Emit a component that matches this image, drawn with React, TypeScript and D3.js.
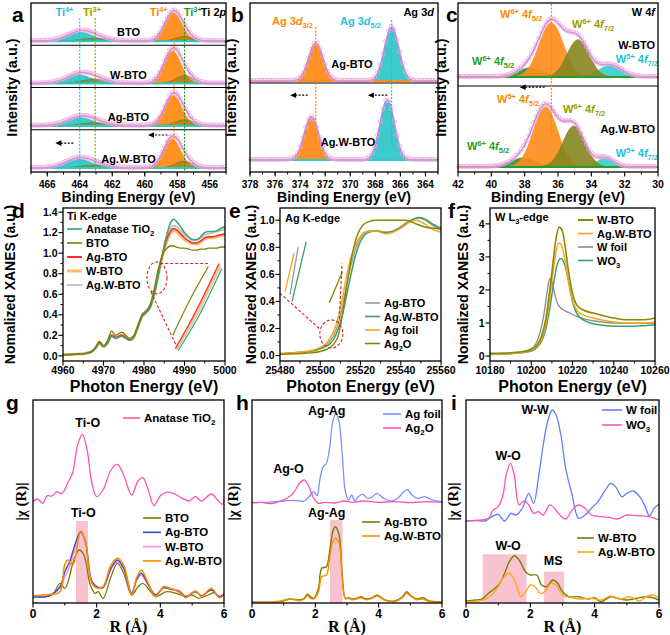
import React from "react";
import * as d3 from "d3";

type Pt = [number, number];
type Peak = [number, number, number]; // centre, height, fwhm

const SANS = "'Liberation Sans', Arial, Helvetica, sans-serif";
const SERIF = "'Liberation Serif', 'Times New Roman', serif";

// ---------- a: Ti 2p fitted components [centre eV, height, FWHM] ----------
const tiSamples = ["BTO", "W-BTO", "Ag-BTO", "Ag.W-BTO"];
const tiTi4p32: Peak[] = [[458.25, 0.95, 1.25], [458.3, 1.08, 1.25], [458.25, 1.0, 1.25], [458.32, 0.97, 1.25]];
const tiTi3p32: Peak[] = [[457.55, 0.16, 1.3], [457.55, 0.26, 1.3], [457.55, 0.2, 1.3], [457.6, 0.22, 1.3]];
const tiTi4p12: Peak[] = [[464.0, 0.3, 1.9], [464.05, 0.28, 1.9], [464.0, 0.27, 1.9], [464.1, 0.3, 1.9]];
const tiTi3p12: Peak[] = [[463.1, 0.1, 1.9], [463.1, 0.14, 1.9], [463.1, 0.1, 1.9], [463.1, 0.1, 1.9]];

// ---------- b: Ag 3d ----------
const agSamples = ["Ag-BTO", "Ag.W-BTO"];
const ag3d52: Peak[] = [[366.7, 0.9, 1.35], [367.05, 1.0, 1.35]];
const ag3d32: Peak[] = [[372.75, 0.63, 1.35], [373.1, 0.72, 1.35]];

// ---------- c: W 4f ----------
const wSamples = ["W-BTO", "Ag.W-BTO"];
const wOrange52: Peak[] = [[36.4, 0.9, 1.7], [36.75, 1.0, 1.7]];
const wOlive72: Peak[] = [[34.8, 0.62, 1.55], [35.05, 0.68, 1.55]];
const wCyan72: Peak[] = [[32.85, 0.2, 1.6], [33.15, 0.15, 1.2]];
const wGreen52: Peak[] = [[37.7, 0.15, 1.7], [38.1, 0.15, 1.7]];

// ---------- d: Ti K-edge XANES ----------
const dEnergy = [4960, 4963, 4965, 4967, 4968, 4969, 4970, 4971, 4972, 4973, 4974.5, 4975.5, 4976.5, 4977.5, 4978.5, 4979.5, 4980.5, 4981.5, 4982.5, 4983.5, 4984.5, 4985.5, 4986.5, 4987.3, 4988, 4989, 4990, 4991, 4992, 4993, 4994, 4995, 4996, 4997, 4998, 4999, 5000];
const dAnatase = [0.01, 0.015, 0.02, 0.035, 0.07, 0.12, 0.09, 0.12, 0.19, 0.17, 0.19, 0.17, 0.15, 0.18, 0.28, 0.38, 0.42, 0.47, 0.6, 0.78, 0.98, 1.16, 1.29, 1.33, 1.31, 1.26, 1.2, 1.16, 1.13, 1.13, 1.16, 1.2, 1.21, 1.21, 1.22, 1.24, 1.26];
const dBTO = [0.01, 0.015, 0.02, 0.04, 0.08, 0.14, 0.1, 0.15, 0.24, 0.2, 0.23, 0.2, 0.17, 0.2, 0.3, 0.4, 0.44, 0.5, 0.65, 0.84, 0.98, 1.04, 1.07, 1.07, 1.06, 1.05, 1.05, 1.04, 1.03, 1.03, 1.04, 1.04, 1.05, 1.05, 1.05, 1.06, 1.06];
const dAgBTO = [0.01, 0.015, 0.02, 0.04, 0.075, 0.13, 0.09, 0.13, 0.2, 0.18, 0.2, 0.18, 0.155, 0.185, 0.285, 0.385, 0.425, 0.475, 0.61, 0.79, 0.97, 1.12, 1.21, 1.24, 1.23, 1.19, 1.15, 1.12, 1.1, 1.1, 1.12, 1.15, 1.16, 1.16, 1.17, 1.18, 1.19];
const dWBTO = [0.01, 0.015, 0.02, 0.04, 0.075, 0.13, 0.09, 0.13, 0.2, 0.18, 0.2, 0.18, 0.155, 0.185, 0.285, 0.385, 0.425, 0.475, 0.6, 0.78, 0.96, 1.1, 1.19, 1.22, 1.21, 1.17, 1.13, 1.11, 1.09, 1.09, 1.11, 1.14, 1.15, 1.15, 1.16, 1.17, 1.18];
const dAgWBTO = [0.015, 0.02, 0.025, 0.045, 0.08, 0.13, 0.095, 0.13, 0.2, 0.18, 0.2, 0.18, 0.16, 0.19, 0.29, 0.39, 0.43, 0.48, 0.6, 0.78, 0.97, 1.14, 1.24, 1.27, 1.26, 1.22, 1.18, 1.15, 1.13, 1.13, 1.15, 1.18, 1.19, 1.2, 1.21, 1.22, 1.23];
const dInsetBTO: Pt[] = [[4987.1, 0.2], [4991, 0.52], [4995.9, 0.87]];
const dInsetAgBTO: Pt[] = [[4987.7, 0.07], [4993, 0.45], [4998.5, 0.9]];
const dInsetWBTO: Pt[] = [[4987.9, 0.07], [4993.2, 0.44], [4998.7, 0.89]];
const dInsetAgWBTO: Pt[] = [[4988.1, 0.06], [4993.4, 0.42], [4998.9, 0.87]];
const dInsetAnatase: Pt[] = [[4988.4, 0.05], [4993.7, 0.4], [4999.2, 0.85]];
const dZoomCentre: Pt = [4983.2, 0.76];
const dZoomLines: Pt[][] = [[[4984, 0.9], [4995.8, 0.9]], [[4981.7, 0.625], [4988.1, 0.09]]];

// ---------- e: Ag K-edge XANES ----------
const eAgBTO: Pt[] = [[25480, 0.015], [25490, 0.025], [25495, 0.033], [25500, 0.055], [25503, 0.08], [25505, 0.11], [25507, 0.16], [25509, 0.24], [25511, 0.36], [25513, 0.51], [25515, 0.65], [25517, 0.76], [25519, 0.84], [25521, 0.89], [25524, 0.92], [25528, 0.925], [25532, 0.91], [25535, 0.91], [25540, 0.95], [25545, 1.0], [25549, 1.015], [25552, 1.0], [25556, 0.96], [25560, 0.93]];
const eAgWBTO: Pt[] = [[25480, 0.012], [25490, 0.022], [25495, 0.03], [25500, 0.05], [25503, 0.07], [25505, 0.09], [25507, 0.13], [25509, 0.2], [25511, 0.3], [25513, 0.44], [25515, 0.58], [25517, 0.71], [25519, 0.81], [25521, 0.87], [25524, 0.91], [25528, 0.92], [25532, 0.91], [25535, 0.915], [25540, 0.95], [25545, 1.0], [25549, 1.02], [25552, 1.01], [25556, 0.97], [25560, 0.94]];
const eAgFoil: Pt[] = [[25480, 0.015], [25490, 0.025], [25495, 0.035], [25500, 0.06], [25503, 0.09], [25505, 0.13], [25507, 0.19], [25509, 0.29], [25511, 0.42], [25513, 0.58], [25515, 0.71], [25517, 0.8], [25519, 0.86], [25521, 0.9], [25524, 0.92], [25528, 0.92], [25532, 0.9], [25535, 0.905], [25540, 0.94], [25545, 0.99], [25548, 1.0], [25551, 0.98], [25555, 0.94], [25560, 0.91]];
const eAg2O: Pt[] = [[25480, 0.01], [25490, 0.015], [25495, 0.02], [25500, 0.03], [25503, 0.045], [25505, 0.06], [25507, 0.09], [25509, 0.15], [25511, 0.3], [25513, 0.5], [25515, 0.68], [25517, 0.82], [25519, 0.91], [25521, 0.96], [25524, 0.99], [25528, 1.0], [25533, 1.0], [25538, 1.0], [25542, 1.0], [25545, 0.99], [25548, 0.97], [25552, 0.95], [25556, 0.94], [25560, 0.935]];
const eInsetAgBTO: Pt[] = [[25485, 0.45], [25489, 0.8]];
const eInsetAgWBTO: Pt[] = [[25486, 0.4], [25493, 0.84]];
const eInsetAgFoil: Pt[] = [[25482.5, 0.47], [25487, 0.76]];
const eInsetAg2O: Pt[] = [[25504.5, 0.39], [25511, 0.62]];
const eZoomCentre: Pt = [25505.5, 0.16];
const eZoomLines: Pt[][] = [[[25499.5, 0.2], [25480, 0.46]], [[25509.5, 0.27], [25510.8, 0.68]]];

// ---------- f: W L3-edge XANES ----------
const fWBTO: Pt[] = [[10180, 0.08], [10190, 0.1], [10195, 0.13], [10200, 0.2], [10203, 0.35], [10205, 0.6], [10207, 1.1], [10209, 2.0], [10210.5, 2.8], [10212, 3.55], [10213.5, 3.9], [10215, 3.8], [10216.5, 3.3], [10218, 2.6], [10220, 1.9], [10222, 1.55], [10225, 1.4], [10230, 1.3], [10235, 1.22], [10240, 1.15], [10245, 1.1], [10250, 1.1], [10255, 1.1], [10260, 1.15]];
const fAgWBTO: Pt[] = [[10180, 0.06], [10190, 0.08], [10195, 0.11], [10200, 0.18], [10203, 0.3], [10205, 0.5], [10207, 0.95], [10209, 1.75], [10210.5, 2.5], [10212, 3.15], [10213.5, 3.42], [10215, 3.3], [10216.5, 2.85], [10218, 2.25], [10220, 1.7], [10222, 1.4], [10225, 1.25], [10230, 1.15], [10235, 1.08], [10240, 1.03], [10245, 1.0], [10250, 1.0], [10255, 1.0], [10260, 1.02]];
const fWFoil: Pt[] = [[10180, 0.05], [10190, 0.08], [10195, 0.12], [10200, 0.22], [10202, 0.35], [10204, 0.65], [10206, 1.2], [10207.5, 1.85], [10208.5, 2.25], [10209.3, 2.35], [10210.3, 2.2], [10211.5, 1.85], [10213, 1.55], [10215, 1.42], [10218, 1.32], [10222, 1.2], [10226, 1.12], [10232, 1.05], [10240, 1.0], [10250, 0.99], [10260, 1.0]];
const fWO3: Pt[] = [[10180, 0.05], [10190, 0.07], [10195, 0.1], [10200, 0.15], [10203, 0.27], [10205, 0.45], [10207, 0.8], [10209, 1.45], [10211, 2.25], [10212.5, 2.75], [10214.3, 2.95], [10216, 2.8], [10218, 2.3], [10220, 1.65], [10222, 1.3], [10225, 1.1], [10230, 0.98], [10235, 0.93], [10240, 0.9], [10245, 0.9], [10250, 0.9], [10255, 0.92], [10260, 0.95]];

// ---------- g: Ti K-edge EXAFS |chi(R)| (offset, arb. units) ----------
const gAnatase: Pt[] = [[0, 101.3], [0.15, 104], [0.3, 99.7], [0.45, 107.3], [0.6, 107], [0.75, 111.3], [0.9, 109.3], [1.1, 120.7], [1.25, 130.7], [1.4, 158], [1.55, 168.7], [1.7, 153], [1.85, 119.7], [2.0, 106.3], [2.2, 113], [2.45, 133], [2.65, 138.7], [2.85, 128], [3.1, 108], [3.3, 122], [3.45, 125.3], [3.6, 115.3], [3.8, 97.3], [4.0, 107.3], [4.2, 110.7], [4.4, 109.7], [4.7, 104.7], [4.9, 102], [5.1, 106.3], [5.3, 102], [5.6, 109], [5.8, 103], [5.95, 98.7], [6.0, 104]];
const gBTO: Pt[] = [[0, 6.3], [0.3, 6.3], [0.6, 8], [0.85, 19.7], [1.0, 14.7], [1.1, 21.3], [1.3, 44.7], [1.45, 53], [1.6, 48], [1.8, 18], [1.95, 9.7], [2.05, 11.3], [2.2, 4.7], [2.45, 26.3], [2.65, 39.7], [2.85, 29.7], [3.1, 8], [3.3, 16.3], [3.45, 19.7], [3.7, 11.3], [3.85, 6.3], [4.2, 11.3], [4.5, 9.7], [4.8, 6.3], [5.0, 8], [5.2, 4.7], [5.5, 8], [5.7, 10.3], [5.85, 6.3], [6.0, 8]];
const gAgBTO: Pt[] = [[0, 6.3], [0.4, 6.3], [0.6, 8.7], [0.85, 16.3], [1.0, 31.3], [1.15, 41.3], [1.35, 61.3], [1.5, 71.3], [1.65, 61.3], [1.85, 21.3], [2.05, 15.3], [2.2, 15.3], [2.45, 34.7], [2.65, 43], [2.85, 34.7], [3.1, 9.7], [3.25, 23], [3.4, 29.7], [3.6, 19.7], [3.85, 8], [4.1, 15.3], [4.3, 14], [4.6, 11.3], [4.8, 6.3], [5.1, 11.3], [5.3, 7], [5.6, 13], [5.85, 6.3], [6.0, 8.7]];
const gWBTO: Pt[] = [[0, 6.8], [0.4, 6.8], [0.6, 9], [0.85, 15], [1.0, 26.3], [1.15, 36.3], [1.35, 58], [1.5, 70.7], [1.65, 60], [1.85, 22], [2.05, 16], [2.2, 16], [2.45, 34], [2.65, 41.3], [2.85, 34], [3.1, 10], [3.25, 22], [3.4, 28], [3.6, 19], [3.85, 8.5], [4.1, 15], [4.3, 14.5], [4.6, 12], [4.8, 7], [5.1, 12], [5.3, 7.5], [5.6, 13.5], [5.85, 7], [6.0, 9]];
const gAgWBTO: Pt[] = [[0, 7], [0.3, 8], [0.6, 8.7], [0.85, 11.3], [1.0, 38.7], [1.1, 43], [1.25, 38], [1.5, 72], [1.65, 61.3], [1.85, 19.7], [2.05, 14.7], [2.2, 16.3], [2.45, 38], [2.65, 44.7], [2.85, 38], [3.1, 8], [3.25, 24.7], [3.4, 33], [3.6, 21.3], [3.85, 6.3], [4.1, 16.3], [4.3, 14.7], [4.6, 10.7], [4.8, 5.3], [5.1, 12], [5.3, 6.3], [5.6, 14.7], [5.85, 5.3], [6.0, 8]];
const gBand: Pt = [1.35, 1.73];

// ---------- h: Ag K-edge EXAFS ----------
const hAgFoil: Pt[] = [[0, 100.7], [0.5, 100.7], [1.0, 102], [1.3, 102.7], [1.5, 102], [1.65, 102], [1.8, 106.3], [1.95, 111.3], [2.05, 107.3], [2.15, 124.7], [2.25, 136.3], [2.35, 139.7], [2.45, 154.7], [2.55, 181.3], [2.65, 189.7], [2.75, 181.3], [2.85, 148], [2.95, 111.3], [3.05, 103], [3.15, 108], [3.25, 102], [3.35, 106.3], [3.5, 108.7], [3.65, 104.7], [3.8, 106.3], [3.95, 109.7], [4.15, 104.7], [4.4, 102], [4.6, 104.7], [4.75, 109.7], [4.9, 113.7], [5.05, 108], [5.25, 104.7], [5.45, 106.3], [5.7, 103], [6.0, 101.3]];
const hAg2O: Pt[] = [[0, 99.7], [0.3, 100.7], [0.6, 99.3], [0.9, 102], [1.1, 104.7], [1.3, 109.7], [1.5, 119.7], [1.65, 123], [1.8, 116.3], [1.95, 104.7], [2.1, 99.7], [2.3, 100.7], [2.6, 100], [2.9, 102], [3.2, 100.7], [3.5, 102], [4.0, 100.7], [4.5, 101.3], [5.0, 100.3], [5.5, 101.3], [6.0, 100.7]];
const hAgBTO: Pt[] = [[0, 0.8], [0.5, 0.8], [0.9, 1.3], [1.2, 4], [1.5, 3], [1.65, 4.7], [1.75, 8.7], [1.85, 6.3], [1.95, 4.7], [2.1, 14.7], [2.2, 34.7], [2.35, 36.3], [2.45, 51.3], [2.55, 71.3], [2.63, 76.3], [2.75, 68], [2.85, 28], [2.95, 4.7], [3.05, 5.3], [3.15, 4], [3.3, 4.7], [3.45, 6.3], [3.6, 4], [3.8, 5.3], [3.95, 8], [4.2, 3], [4.5, 2], [4.75, 6.3], [4.88, 11.3], [5.0, 8], [5.2, 4], [5.4, 5.3], [5.6, 2], [6.0, 1.3]];
const hAgWBTO: Pt[] = [[0, 0.5], [0.5, 0.7], [0.9, 2], [1.2, 4], [1.5, 2.3], [1.65, 4], [1.75, 7.3], [1.85, 4.7], [1.95, 4], [2.1, 11.3], [2.2, 26.3], [2.35, 28], [2.45, 44.7], [2.55, 61.3], [2.63, 64.7], [2.75, 59.7], [2.85, 24.7], [2.95, 4], [3.05, 4.7], [3.15, 3.3], [3.3, 4], [3.45, 5.3], [3.6, 3.3], [3.8, 4.7], [3.95, 7], [4.2, 2.7], [4.5, 1.3], [4.75, 5.3], [4.88, 9.7], [5.0, 7], [5.2, 3.3], [5.4, 4], [5.6, 1.3], [6.0, 1]];
const hBand: Pt = [2.46, 2.86];

// ---------- i: W L3-edge EXAFS ----------
const iWFoil: Pt[] = [[0, 82], [0.3, 82.7], [0.6, 82], [0.8, 86.3], [1.0, 88.7], [1.2, 82], [1.4, 89.7], [1.55, 88], [1.75, 94.7], [1.95, 109.7], [2.1, 99.7], [2.25, 124.7], [2.4, 158], [2.55, 183], [2.68, 193], [2.8, 188], [2.95, 168], [3.1, 134.7], [3.3, 108], [3.5, 84.7], [3.7, 88], [3.9, 94.7], [4.1, 101.3], [4.3, 111.3], [4.5, 119.7], [4.65, 116.3], [4.85, 106.3], [5.0, 109.7], [5.2, 112], [5.4, 106.3], [5.55, 98], [5.7, 87.3], [5.85, 94.7], [6.0, 98.7]];
const iWO3: Pt[] = [[0, 82], [0.5, 83], [0.7, 84.7], [0.85, 93], [1.0, 96.3], [1.15, 108], [1.25, 128], [1.38, 139.7], [1.5, 128], [1.65, 98], [1.8, 102], [1.95, 98], [2.1, 89.7], [2.25, 91.3], [2.4, 88], [2.6, 98], [2.75, 94.7], [2.9, 88.7], [3.1, 84], [3.3, 93], [3.5, 98], [3.7, 94.7], [3.9, 88], [4.2, 86.3], [4.5, 85.3], [4.7, 84], [5.0, 88], [5.3, 87.3], [5.7, 86.3], [6.0, 83]];
const iWBTO: Pt[] = [[0, 2], [0.3, 3], [0.5, 4], [0.7, 9.7], [0.9, 14.7], [1.05, 19.7], [1.2, 29.7], [1.35, 41.3], [1.5, 47.3], [1.65, 43], [1.85, 31.3], [2.0, 28], [2.2, 28], [2.35, 18], [2.5, 16.3], [2.7, 23], [2.85, 19.7], [3.0, 11.3], [3.2, 6.3], [3.5, 6.3], [3.8, 4], [4.0, 5.3], [4.2, 1.3], [4.5, 6.3], [4.7, 4.7], [5.0, 3], [5.3, 4.7], [5.6, 6.3], [5.8, 5.3], [6.0, 3]];
const iAgWBTO: Pt[] = [[0, 1.3], [0.4, 2], [0.6, 4], [0.8, 8], [1.0, 16.3], [1.15, 24.7], [1.32, 29.7], [1.45, 26.3], [1.6, 14.7], [1.7, 6.3], [1.85, 11.3], [2.0, 18], [2.15, 16.3], [2.3, 9.7], [2.45, 11.3], [2.65, 19.7], [2.8, 18], [3.0, 8], [3.3, 5.3], [3.6, 4], [3.9, 4.7], [4.2, 3], [4.5, 7], [4.8, 4], [5.1, 6.3], [5.4, 2], [5.6, 6.3], [5.8, 8], [6.0, 5.3]];
const iBandWO: Pt = [0.52, 1.88];
const iBandMS: Pt = [2.42, 3.05];

// ---------- helpers ----------
const gauss = (p: Peak, x: number) => p[1] * Math.exp((-4 * Math.LN2 * (x - p[0]) ** 2) / (p[2] * p[2]));

type Seg = { t: string; s?: "sup" | "sub"; i?: boolean };
function parse(str: string): Seg[] {
  const segs: Seg[] = [];
  let buf = "";
  let i = 0;
  const flush = () => {
    if (buf) segs.push({ t: buf });
    buf = "";
  };
  while (i < str.length) {
    const ch = str[i];
    if ((ch === "^" || ch === "_") && str[i + 1] === "{") {
      flush();
      const j = str.indexOf("}", i);
      segs.push({ t: str.slice(i + 2, j), s: ch === "^" ? "sup" : "sub" });
      i = j + 1;
    } else if (ch === "~") {
      flush();
      const j = str.indexOf("~", i + 1);
      segs.push({ t: str.slice(i + 1, j), i: true });
      i = j + 1;
    } else {
      buf += ch;
      i++;
    }
  }
  flush();
  return segs;
}

function Rich(props: any) {
  const { x, y, s, fs = 11, fill = "#000", anchor = "start", family = SANS, weight = "bold", transform } = props;
  let shift = 0;
  const kids = parse(s).map((g, k) => {
    const target = g.s === "sup" ? -fs * 0.4 : g.s === "sub" ? fs * 0.3 : 0;
    const dy = target - shift;
    shift = target;
    return (
      <tspan key={k} dy={dy} fontSize={g.s ? fs * 0.68 : fs} fontStyle={g.i ? "italic" : undefined}>
        {g.t}
      </tspan>
    );
  });
  return (
    <text x={x} y={y} fontSize={fs} fill={fill} textAnchor={anchor} fontFamily={family} fontWeight={weight} transform={transform} style={{ whiteSpace: "pre" }}>
      {kids}
    </text>
  );
}

function Frame({ x0, x1, y0, y1 }: any) {
  return <rect x={x0} y={y0} width={x1 - x0} height={y1 - y0} fill="none" stroke="#000" strokeWidth={1.3} />;
}

function XTicks({ xs, y, major, minor, fmt, fs, gap }: any) {
  return (
    <g>
      {minor.map((v: number, k: number) => (
        <line key={"m" + k} x1={xs(v)} x2={xs(v)} y1={y} y2={y + 2.5} stroke="#000" strokeWidth={1} />
      ))}
      {major.map((v: number, k: number) => (
        <g key={k}>
          <line x1={xs(v)} x2={xs(v)} y1={y} y2={y + 4.5} stroke="#000" strokeWidth={1.1} />
          <text x={xs(v)} y={y + gap} textAnchor="middle" fontSize={fs} fontWeight="bold">
            {fmt(v)}
          </text>
        </g>
      ))}
    </g>
  );
}

function YTicks({ ys, x, major, minor, fmt }: any) {
  return (
    <g>
      {minor.map((v: number, k: number) => (
        <line key={"m" + k} x1={x} x2={x - 2.5} y1={ys(v)} y2={ys(v)} stroke="#000" strokeWidth={1} />
      ))}
      {major.map((v: number, k: number) => (
        <g key={k}>
          <line x1={x} x2={x - 4.5} y1={ys(v)} y2={ys(v)} stroke="#000" strokeWidth={1.1} />
          <text x={x - 5.5} y={ys(v) + 3.7} textAnchor="end" fontSize={10.5} fontWeight="bold">
            {fmt(v)}
          </text>
        </g>
      ))}
    </g>
  );
}

function Arrow({ x1, x2, y }: any) {
  // dashed arrow pointing left, from x1 (right) to x2 (left)
  return (
    <g>
      <line x1={x1} x2={x2 + 5} y1={y} y2={y} stroke="#000" strokeWidth={1.2} strokeDasharray="2,1.5" />
      <path d={`M${x2},${y}L${x2 + 6},${y - 2.8}L${x2 + 6},${y + 2.8}Z`} fill="#000" />
    </g>
  );
}

function VTitle({ x, y, s, fs = 14, family = SANS }: any) {
  return <Rich x={x} y={y} s={s} fs={fs} anchor="middle" family={family} transform={`rotate(-90 ${x} ${y})`} />;
}

function Letter({ x, y, t }: any) {
  return (
    <text x={x} y={y} fontSize={21} fontWeight="bold">
      {t}
    </text>
  );
}

const C = {
  orange: "#ff8c1a",
  cyan: "#33c7c7",
  olive: "#7a7a12",
  green: "#2e962e",
  env: "#b98ae6",
  dot: "#f3a4d6",
  tCyan: "#1ec3d6",
  tOlive: "#9a9a00",
  tOrange: "#ff8800",
  tGreen: "#1e9e1e",
};

function XpsSub({ xs, ys, comps, grid, dots, baseColor }: any) {
  const env = (x: number) => d3.sum(comps, (c: any) => gauss(c.p, x));
  const area = (p: Peak) =>
    d3
      .area<number>()
      .x((e) => xs(e))
      .y0(ys(0))
      .y1((e) => ys(gauss(p, e)))(grid) as string;
  const r = xs.range();
  return (
    <g>
      {comps.map((c: any, k: number) => (
        <path key={k} d={area(c.p)} fill={c.fill} fillOpacity={c.op} stroke={c.fill} strokeWidth={0.8} />
      ))}
      <line x1={r[0]} x2={r[1]} y1={ys(0)} y2={ys(0)} stroke={baseColor} strokeWidth={2} />
      <path
        d={d3.line<number>().x((e) => xs(e)).y((e) => ys(env(e)))(grid) as string}
        fill="none"
        stroke={C.env}
        strokeWidth={1.6}
      />
      {dots.map((e: number, k: number) => (
        <circle key={k} cx={xs(e)} cy={ys(env(e)) - 0.6} r={2.1} fill="none" stroke={C.dot} strokeWidth={0.8} />
      ))}
    </g>
  );
}

// ---------- row 1 ----------
function PanelA() {
  const x0 = 31, x1 = 226, top = 3, bot = 172;
  const xs = d3.scaleLinear().domain([467, 455]).range([x0, x1]);
  const h = (bot - top) / 4;
  const grid = d3.range(455, 467.001, 0.05);
  const dots = d3.range(455.1, 467, 0.16);
  const lastYs = d3.scaleLinear().domain([0, 1]).range([bot - 4, bot - 34]);
  return (
    <g>
      {tiSamples.map((name, i) => {
        const base = top + h * (i + 1) - 4;
        const ys = d3.scaleLinear().domain([0, 1]).range([base, base - 30]);
        const comps = [
          { p: tiTi4p12[i], fill: C.cyan, op: 0.95 },
          { p: tiTi4p32[i], fill: C.orange, op: 0.95 },
          { p: tiTi3p12[i], fill: C.olive, op: 0.55 },
          { p: tiTi3p32[i], fill: C.olive, op: 0.55 },
        ];
        return (
          <g key={name}>
            <XpsSub xs={xs} ys={ys} comps={comps} grid={grid} dots={dots} baseColor={C.cyan} />
            <text x={xs(461)} y={base - 5} textAnchor="middle" fontSize={11} fontWeight="bold">
              {name}
            </text>
            {i > 0 && <line x1={x0} x2={x1} y1={top + h * i} y2={top + h * i} stroke="#000" strokeWidth={1.2} />}
          </g>
        );
      })}
      <line x1={xs(464.0)} x2={xs(464.0)} y1={18} y2={bot} stroke={C.tCyan} strokeWidth={1.1} strokeDasharray="2,1.5" />
      <line x1={xs(463.05)} x2={xs(463.05)} y1={18} y2={bot} stroke={C.tOlive} strokeWidth={1.1} strokeDasharray="2,1.5" />
      <line x1={xs(458.2)} x2={xs(458.2)} y1={18} y2={bot - 12} stroke={C.tOrange} strokeWidth={1.1} strokeDasharray="2,1.5" />
      <line x1={xs(457.55)} x2={xs(457.55)} y1={18} y2={bot} stroke={C.tGreen} strokeWidth={1.1} strokeDasharray="2,1.5" />
      <Rich x={xs(465.5)} y={16} s="Ti^{4+}" fill={C.tCyan} />
      <Rich x={xs(463.8)} y={16} s="Ti^{3+}" fill={C.tOlive} />
      <Rich x={xs(459.7)} y={16} s="Ti^{4+}" fill={C.tOrange} />
      <Rich x={xs(457.6)} y={16} s="Ti^{3+}" fill={C.tGreen} />
      <Rich x={xs(456.55)} y={16} s="Ti 2~p~" />
      <Arrow x1={xs(464.4)} x2={xs(465.5)} y={lastYs(0.83)} />
      <Arrow x1={xs(458.6)} x2={xs(459.8)} y={lastYs(1.1)} />
      <Frame x0={x0} x1={x1} y0={top} y1={bot} />
      <XTicks xs={xs} y={bot} major={d3.range(456, 467, 2)} minor={d3.range(455, 468, 1)} fmt={(v: number) => v} fs={10} gap={16} />
      <text x={(x0 + x1) / 2} y={202} textAnchor="middle" fontSize={14} fontWeight="bold">Binding Energy (eV)</text>
      <VTitle x={17} y={(top + bot) / 2} s="Intensity (a.u.)" fs={14.5} />
      <Letter x={12} y={22} t="a" />
    </g>
  );
}

function PanelB() {
  const x0 = 250, x1 = 438, top = 3, bot = 172;
  const xs = d3.scaleLinear().domain([378, 363]).range([x0, x1]);
  const grid = d3.range(363, 378.001, 0.05);
  const dots = d3.range(363.2, 378, 0.22);
  const bases = [81, 160];
  const lowYs = d3.scaleLinear().domain([0, 1]).range([160, 100]);
  return (
    <g>
      {agSamples.map((name, i) => {
        const ys = d3.scaleLinear().domain([0, 1]).range([bases[i], bases[i] - 60]);
        const comps = [
          { p: ag3d32[i], fill: C.orange, op: 0.95 },
          { p: ag3d52[i], fill: C.cyan, op: 0.95 },
        ];
        return <XpsSub key={name} xs={xs} ys={ys} comps={comps} grid={grid} dots={dots} baseColor={i === 0 ? C.orange : C.cyan} />;
      })}
      <line x1={x0} x2={x1} y1={83} y2={83} stroke="#000" strokeWidth={1.2} />
      <line x1={xs(372.75)} x2={xs(372.75)} y1={27} y2={146} stroke={C.tOrange} strokeWidth={1.2} strokeDasharray="2,1.5" />
      <line x1={xs(366.7)} x2={xs(366.7)} y1={20} y2={146} stroke={C.tCyan} strokeWidth={1.2} strokeDasharray="2,1.5" />
      <Rich x={272} y={25} s="Ag 3~d~_{3/2}" fill={C.tOrange} />
      <Rich x={340} y={25} s="Ag 3~d~_{5/2}" fill={C.tCyan} />
      <Rich x={434} y={16} s="Ag 3~d~" anchor="end" />
      <text x={352} y={68} textAnchor="middle" fontSize={11} fontWeight="bold">{agSamples[0]}</text>
      <text x={348} y={146} textAnchor="middle" fontSize={11} fontWeight="bold">{agSamples[1]}</text>
      <Arrow x1={xs(373.4)} x2={xs(374.8)} y={lowYs(1.08)} />
      <Arrow x1={xs(367.05)} x2={xs(368.6)} y={lowYs(1.08)} />
      <Frame x0={x0} x1={x1} y0={top} y1={bot} />
      <XTicks xs={xs} y={bot} major={d3.range(364, 379, 2)} minor={d3.range(363, 379, 1)} fmt={(v: number) => v} fs={10} gap={16} />
      <text x={(x0 + x1) / 2} y={202} textAnchor="middle" fontSize={14} fontWeight="bold">Binding Energy (eV)</text>
      <VTitle x={236} y={(top + bot) / 2} s="Intensity (a.u.)" fs={14.5} />
      <Letter x={231} y={22} t="b" />
    </g>
  );
}

function PanelC() {
  const x0 = 458, x1 = 658, top = 3, bot = 172;
  const xs = d3.scaleLinear().domain([42, 30]).range([x0, x1]);
  const grid = d3.range(30, 42.001, 0.04);
  const dots = d3.range(30.1, 42, 0.15);
  const bases = [77, 167];
  const lowYs = d3.scaleLinear().domain([0, 1]).range([167, 107]);
  return (
    <g>
      {wSamples.map((name, i) => {
        const ys = d3.scaleLinear().domain([0, 1]).range([bases[i], bases[i] - 60]);
        const comps = [
          { p: wCyan72[i], fill: "#3dd0d0", op: 0.95 },
          { p: wGreen52[i], fill: "#2f942f", op: 0.9 },
          { p: wOrange52[i], fill: C.orange, op: 0.9 },
          { p: wOlive72[i], fill: "#85851f", op: 0.9 },
        ];
        return <XpsSub key={name} xs={xs} ys={ys} comps={comps} grid={grid} dots={dots} baseColor="#2a9a2a" />;
      })}
      <line x1={x0} x2={x1} y1={86} y2={86} stroke="#000" strokeWidth={1.2} />
      <line x1={xs(36.4)} x2={xs(36.4)} y1={4} y2={137} stroke={C.tOrange} strokeWidth={1.2} strokeDasharray="2,1.5" />
      <Rich x={500} y={18} s="W^{6+} 4~f~_{5/2}" fill={C.tOrange} />
      <Rich x={572} y={28} s="W^{6+} 4~f~_{7/2}" fill={C.tOlive} />
      <Rich x={655} y={16} s="W 4~f~" anchor="end" />
      <text x={655} y={49} textAnchor="end" fontSize={11} fontWeight="bold">{wSamples[0]}</text>
      <Rich x={472} y={65} s="W^{6+} 4~f~_{5/2}" fill={C.tGreen} />
      <Rich x={658} y={63} s="W^{5+} 4~f~_{7/2}" fill={C.tCyan} anchor="end" />
      <Rich x={497} y={103} s="W^{5+} 4~f~_{5/2}" fill={C.tOrange} />
      <Rich x={563} y={113} s="W^{6+} 4~f~_{7/2}" fill={C.tOlive} />
      <text x={655} y={133} textAnchor="end" fontSize={11} fontWeight="bold">{wSamples[1]}</text>
      <Rich x={467} y={150} s="W^{6+} 4~f~_{5/2}" fill={C.tGreen} />
      <Rich x={658} y={157} s="W^{5+} 4~f~_{7/2}" fill={C.tCyan} anchor="end" />
      <Arrow x1={xs(36.8)} x2={xs(38.3)} y={lowYs(1.33)} />
      <Frame x0={x0} x1={x1} y0={top} y1={bot} />
      <XTicks xs={xs} y={bot} major={d3.range(30, 43, 2)} minor={d3.range(31, 43, 2)} fmt={(v: number) => v} fs={10.5} gap={16} />
      <text x={(x0 + x1) / 2} y={202} textAnchor="middle" fontSize={14} fontWeight="bold">Binding Energy (eV)</text>
      <VTitle x={446} y={(top + bot) / 2} s="Intensity (a.u.)" fs={14.5} />
      <Letter x={446} y={22} t="c" />
    </g>
  );
}

// ---------- row 2 ----------
function LegendRows({ x, y, items, step, len = 15, fs = 11 }: any) {
  return (
    <g>
      {items.map((it: any, k: number) => (
        <g key={k}>
          <line x1={x} x2={x + len} y1={y + k * step} y2={y + k * step} stroke={it.color} strokeWidth={it.w ?? 1.6} />
          <Rich x={x + len + 4} y={y + k * step + 4} s={it.label} fs={fs} />
        </g>
      ))}
    </g>
  );
}

function Lines({ series, xs, ys, clip, curve }: any) {
  const line = d3
    .line<Pt>()
    .x((d) => xs(d[0]))
    .y((d) => ys(d[1]))
    .curve(curve);
  return (
    <g clipPath={`url(#${clip})`}>
      {series.map((s: any, k: number) => (
        <path key={k} d={line(s.pts) as string} fill="none" stroke={s.color} strokeWidth={s.w ?? 1.3} strokeLinejoin="round" />
      ))}
    </g>
  );
}

function PanelD() {
  const x0 = 63, x1 = 225, top = 208, bot = 361;
  const xs = d3.scaleLinear().domain([4960, 5000]).range([x0, x1]);
  const ys = d3.scaleLinear().domain([-0.05, 1.44]).range([bot, top]);
  const zip = (y: number[]) => dEnergy.map((e, k) => [e, y[k]] as Pt);
  const col = { ana: "#3aa273", bto: "#808000", ag: "#ff2a2a", w: "#ffbf60", agw: "#c4c4c4" };
  const series = [
    { pts: zip(dWBTO), color: col.w, w: 2.8 },
    { pts: zip(dAgWBTO), color: col.agw, w: 2 },
    { pts: zip(dAgBTO), color: col.ag, w: 1.5 },
    { pts: zip(dAnatase), color: col.ana, w: 1.5 },
    { pts: zip(dBTO), color: col.bto, w: 1.3 },
  ];
  const inset = [
    { pts: dInsetWBTO, color: col.w, w: 1.8 },
    { pts: dInsetAgWBTO, color: col.agw, w: 1.2 },
    { pts: dInsetAgBTO, color: col.ag, w: 1.2 },
    { pts: dInsetAnatase, color: col.ana, w: 1.2 },
    { pts: dInsetBTO, color: col.bto, w: 1.2 },
  ];
  return (
    <g>
      <defs>
        <clipPath id="clipD">
          <rect x={x0} y={top} width={x1 - x0} height={bot - top} />
        </clipPath>
      </defs>
      <Lines series={series} xs={xs} ys={ys} clip="clipD" curve={d3.curveMonotoneX} />
      <Lines series={inset} xs={xs} ys={ys} clip="clipD" curve={d3.curveMonotoneX} />
      <ellipse cx={xs(dZoomCentre[0])} cy={ys(dZoomCentre[1])} rx={10} ry={16} fill="none" stroke="#e02020" strokeWidth={1.1} strokeDasharray="3,2" />
      {dZoomLines.map((l, k) => (
        <line key={k} x1={xs(l[0][0])} y1={ys(l[0][1])} x2={xs(l[1][0])} y2={ys(l[1][1])} stroke="#e02020" strokeWidth={1.1} strokeDasharray="3,2" />
      ))}
      <text x={67} y={220} fontSize={11} fontWeight="bold">Ti K-edge</text>
      <LegendRows
        x={67}
        y={229}
        step={14}
        items={[
          { label: "Anatase TiO_{2}", color: col.ana },
          { label: "BTO", color: col.bto },
          { label: "Ag-BTO", color: col.ag, w: 2 },
          { label: "W-BTO", color: col.w, w: 3 },
          { label: "Ag.W-BTO", color: col.agw, w: 2 },
        ]}
      />
      <Frame x0={x0} x1={x1} y0={top} y1={bot} />
      <XTicks xs={xs} y={bot} major={d3.range(4960, 5001, 10)} minor={d3.range(4965, 5000, 10)} fmt={(v: number) => v} fs={10.5} gap={13} />
      <YTicks ys={ys} x={x0} major={d3.range(0, 1.41, 0.2)} minor={d3.range(0.1, 1.41, 0.2)} fmt={(v: number) => v.toFixed(1)} />
      <text x={(x0 + x1) / 2} y={392} textAnchor="middle" fontSize={16} fontWeight="bold">Photon Energy (eV)</text>
      <VTitle x={15} y={(top + bot) / 2} s="Nomalized XANES (a.u.)" fs={14} />
      <Letter x={12} y={218} t="d" />
    </g>
  );
}

function PanelE() {
  const x0 = 280, x1 = 441, top = 208, bot = 361;
  const xs = d3.scaleLinear().domain([25480, 25560]).range([x0, x1]);
  const ys = d3.scaleLinear().domain([-0.04, 1.09]).range([bot, top]);
  const col = { agbto: "#9a9a9a", agw: "#3d9e5f", foil: "#ffa31a", ag2o: "#858500" };
  const series = [
    { pts: eAgBTO, color: col.agbto },
    { pts: eAgWBTO, color: col.agw, w: 1.5 },
    { pts: eAgFoil, color: col.foil, w: 1.5 },
    { pts: eAg2O, color: col.ag2o, w: 1.4 },
  ];
  const inset = [
    { pts: eInsetAgBTO, color: col.agbto },
    { pts: eInsetAgWBTO, color: col.agw },
    { pts: eInsetAgFoil, color: col.foil },
    { pts: eInsetAg2O, color: col.ag2o },
  ];
  return (
    <g>
      <defs>
        <clipPath id="clipE">
          <rect x={x0} y={top} width={x1 - x0} height={bot - top} />
        </clipPath>
      </defs>
      <Lines series={series} xs={xs} ys={ys} clip="clipE" curve={d3.curveMonotoneX} />
      <Lines series={inset} xs={xs} ys={ys} clip="clipE" curve={d3.curveLinear} />
      <ellipse cx={xs(eZoomCentre[0])} cy={ys(eZoomCentre[1])} rx={11.5} ry={14} fill="none" stroke="#e02020" strokeWidth={1.1} strokeDasharray="3,2" />
      {eZoomLines.map((l, k) => (
        <line key={k} x1={xs(l[0][0])} y1={ys(l[0][1])} x2={xs(l[1][0])} y2={ys(l[1][1])} stroke="#e02020" strokeWidth={1.1} strokeDasharray="3,2" />
      ))}
      <text x={285} y={222} fontSize={11} fontWeight="bold">Ag K-edge</text>
      <LegendRows
        x={365}
        y={303}
        step={13.5}
        items={[
          { label: "Ag-BTO", color: col.agbto },
          { label: "Ag.W-BTO", color: col.agw },
          { label: "Ag foil", color: col.foil },
          { label: "Ag_{2}O", color: col.ag2o },
        ]}
      />
      <Frame x0={x0} x1={x1} y0={top} y1={bot} />
      <XTicks xs={xs} y={bot} major={d3.range(25480, 25561, 20)} minor={d3.range(25490, 25560, 20)} fmt={(v: number) => v} fs={10.5} gap={13} />
      <YTicks ys={ys} x={x0} major={d3.range(0, 1.01, 0.2)} minor={d3.range(0.1, 1.01, 0.2)} fmt={(v: number) => v.toFixed(1)} />
      <text x={(x0 + x1) / 2} y={392} textAnchor="middle" fontSize={16} fontWeight="bold">Photon Energy (eV)</text>
      <VTitle x={256} y={(top + bot) / 2} s="Nomalized XANES (a.u.)" fs={14} />
      <Letter x={229} y={218} t="e" />
    </g>
  );
}

function PanelF() {
  const x0 = 490, x1 = 655, top = 208, bot = 361;
  const xs = d3.scaleLinear().domain([10180, 10260]).range([x0, x1]);
  const ys = d3.scaleLinear().domain([-0.15, 4.48]).range([bot, top]);
  const col = { wbto: "#8a8a00", agw: "#ffa31a", foil: "#8c8c8c", wo3: "#3aa36a" };
  const series = [
    { pts: fWFoil, color: col.foil },
    { pts: fWO3, color: col.wo3, w: 1.5 },
    { pts: fAgWBTO, color: col.agw, w: 1.5 },
    { pts: fWBTO, color: col.wbto, w: 1.6 },
  ];
  return (
    <g>
      <defs>
        <clipPath id="clipF">
          <rect x={x0} y={top} width={x1 - x0} height={bot - top} />
        </clipPath>
      </defs>
      <Lines series={series} xs={xs} ys={ys} clip="clipF" curve={d3.curveMonotoneX} />
      <Rich x={495} y={221} s="W L_{3}-edge" fs={11} />
      <LegendRows
        x={578}
        y={220}
        step={13.5}
        items={[
          { label: "W-BTO", color: col.wbto, w: 2 },
          { label: "Ag.W-BTO", color: col.agw },
          { label: "W foil", color: col.foil },
          { label: "WO_{3}", color: col.wo3 },
        ]}
      />
      <Frame x0={x0} x1={x1} y0={top} y1={bot} />
      <XTicks xs={xs} y={bot} major={d3.range(10180, 10261, 20)} minor={d3.range(10190, 10260, 20)} fmt={(v: number) => v} fs={10.5} gap={13} />
      <YTicks ys={ys} x={x0} major={d3.range(0, 4.01, 1)} minor={d3.range(0.5, 4.01, 1)} fmt={(v: number) => v} />
      <text x={(x0 + x1) / 2} y={392} textAnchor="middle" fontSize={16} fontWeight="bold">Photon Energy (eV)</text>
      <VTitle x={468} y={(top + bot) / 2} s="Nomalized XANES (a.u.)" fs={14} />
      <Letter x={448} y={218} t="f" />
    </g>
  );
}

// ---------- row 3 ----------
function ExafsPanel({ id, x0, x1, letter, letterX, titleX, series, bands, labels, legends }: any) {
  const top = 400, bot = 603;
  const xs = d3.scaleLinear().domain([0, 6]).range([x0, x1]);
  const ys = d3.scaleLinear().domain([0, 203]).range([bot, top]);
  return (
    <g>
      <defs>
        <clipPath id={id}>
          <rect x={x0} y={top} width={x1 - x0} height={bot - top} />
        </clipPath>
      </defs>
      {bands.map((b: any, k: number) => (
        <rect key={k} x={xs(b.r[0])} width={xs(b.r[1]) - xs(b.r[0])} y={ys(b.top)} height={ys(0) - ys(b.top)} fill="#f8c3cf" />
      ))}
      <Lines series={series} xs={xs} ys={ys} clip={id} curve={d3.curveCatmullRom.alpha(0.5)} />
      {labels.map((l: any, k: number) => (
        <text key={k} x={xs(l.r)} y={ys(l.v)} textAnchor="middle" fontSize={12.5} fontWeight="bold">
          {l.t}
        </text>
      ))}
      {legends.map((lg: any, k: number) => (
        <LegendRows key={k} x={lg.x} y={lg.y} step={lg.step} len={lg.len} items={lg.items} fs={11.5} />
      ))}
      <Frame x0={x0} x1={x1} y0={top} y1={bot} />
      <XTicks xs={xs} y={bot} major={[0, 2, 4, 6]} minor={[1, 3, 5]} fmt={(v: number) => v} fs={12} gap={15} />
      <text x={(x0 + x1) / 2} y={632} textAnchor="middle" fontSize={16} fontWeight="bold" fontFamily={SERIF}>R (Å)</text>
      <VTitle x={titleX} y={(top + bot) / 2} s="|χ (R)|" fs={15} family={SERIF} />
      <Letter x={letterX} y={410} t={letter} />
    </g>
  );
}

export default function App() {
  const pink = "#ff55b0", olive = "#7d7d00", orange = "#ff8c00";
  return (
    <svg
      width={670}
      height={635}
      viewBox="0 0 670 635"
      style={{ position: "absolute", left: 0, top: 0, background: "#fff" }}
      fontFamily={SANS}
    >
      <rect width={670} height={635} fill="#fff" />
      <PanelA />
      <PanelB />
      <PanelC />
      <PanelD />
      <PanelE />
      <PanelF />
      <ExafsPanel
        id="clipG"
        x0={33}
        x1={224}
        letter="g"
        letterX={6}
        titleX={26}
        bands={[{ r: gBand, top: 82 }]}
        series={[
          { pts: gAnatase, color: pink },
          { pts: gBTO, color: olive },
          { pts: gWBTO, color: "#ff8fd2", w: 1.5 },
          { pts: gAgBTO, color: "#3552c0", w: 1.4 },
          { pts: gAgWBTO, color: orange, w: 1.5 },
        ]}
        labels={[
          { t: "Ti-O", r: 1.72, v: 176 },
          { t: "Ti-O", r: 1.58, v: 86.3 },
        ]}
        legends={[
          { x: 123, y: 418, step: 14, len: 17, items: [{ label: "Anatase TiO_{2}", color: pink }] },
          {
            x: 143,
            y: 518,
            step: 14.3,
            len: 18,
            items: [
              { label: "BTO", color: olive },
              { label: "Ag-BTO", color: "#3552c0" },
              { label: "W-BTO", color: "#ff8fd2" },
              { label: "Ag.W-BTO", color: orange },
            ],
          },
        ]}
      />
      <ExafsPanel
        id="clipH"
        x0={252}
        x1={442}
        letter="h"
        letterX={236}
        titleX={238}
        bands={[{ r: hBand, top: 83 }]}
        series={[
          { pts: hAgFoil, color: "#7f8fff" },
          { pts: hAg2O, color: pink },
          { pts: hAgBTO, color: olive, w: 1.4 },
          { pts: hAgWBTO, color: orange, w: 1.4 },
        ]}
        labels={[
          { t: "Ag-Ag", r: 2.36, v: 188 },
          { t: "Ag-O", r: 1.15, v: 129.7 },
          { t: "Ag-Ag", r: 2.36, v: 86.3 },
        ]}
        legends={[
          {
            x: 383,
            y: 414,
            step: 14,
            len: 18,
            items: [
              { label: "Ag foil", color: "#7f8fff" },
              { label: "Ag_{2}O", color: pink },
            ],
          },
          {
            x: 362,
            y: 522,
            step: 14,
            len: 18,
            items: [
              { label: "Ag-BTO", color: olive },
              { label: "Ag.W-BTO", color: orange },
            ],
          },
        ]}
      />
      <ExafsPanel
        id="clipI"
        x0={466}
        x1={659}
        letter="i"
        letterX={451}
        titleX={458}
        bands={[
          { r: iBandWO, top: 48.7 },
          { r: iBandMS, top: 31.3 },
        ]}
        series={[
          { pts: iWFoil, color: "#5f7fff" },
          { pts: iWO3, color: pink },
          { pts: iWBTO, color: olive, w: 1.4 },
          { pts: iAgWBTO, color: "#ffa51f", w: 1.4 },
        ]}
        labels={[
          { t: "W-W", r: 2.15, v: 189 },
          { t: "W-O", r: 1.31, v: 143 },
          { t: "W-O", r: 1.31, v: 53 },
          { t: "MS", r: 2.71, v: 38 },
        ]}
        legends={[
          {
            x: 602,
            y: 410,
            step: 15,
            len: 20,
            items: [
              { label: "W foil", color: "#5f7fff" },
              { label: "WO_{3}", color: pink },
            ],
          },
          {
            x: 577,
            y: 538,
            step: 14,
            len: 17,
            items: [
              { label: "W-BTO", color: olive },
              { label: "Ag.W-BTO", color: "#ffa51f" },
            ],
          },
        ]}
      />
    </svg>
  );
}
